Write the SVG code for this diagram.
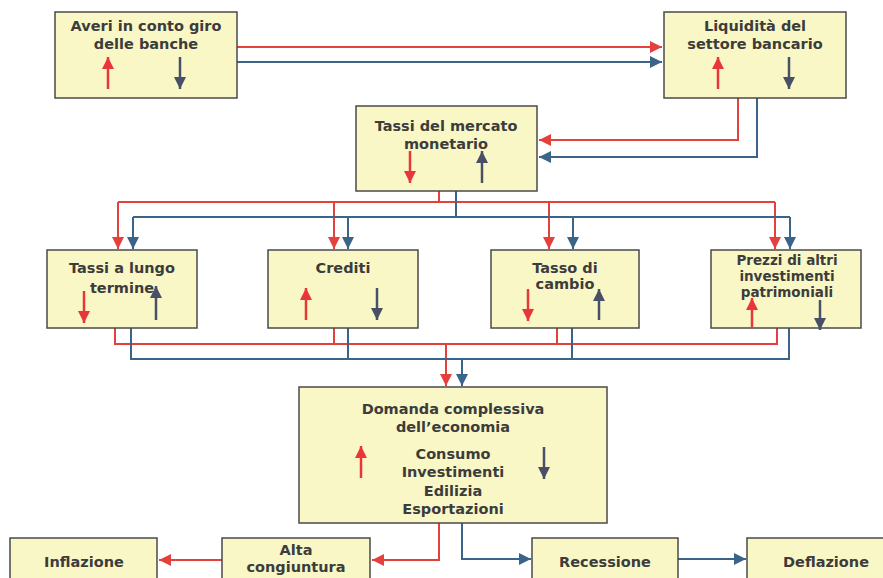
<svg xmlns="http://www.w3.org/2000/svg" width="883" height="578" viewBox="0 0 883 578">
<defs>
<style>
.box{fill:#f9f7c6;stroke:#4a4a4a;stroke-width:1.5}
.t{font-family:"DejaVu Sans","Liberation Sans",Arial,sans-serif;font-weight:bold;font-size:14.5px;fill:#3c3c3c;text-anchor:middle}
.s{font-size:13.5px}
.r{fill:none;stroke:#e4403c;stroke-width:2}
.b{fill:none;stroke:#3a6488;stroke-width:2}
.ra{stroke:#e8363a;stroke-width:2.5;marker-end:url(#ar)}
.da{stroke:#4a4f68;stroke-width:2.5;marker-end:url(#ad)}
</style>
<marker id="mr" markerUnits="userSpaceOnUse" markerWidth="14" markerHeight="14" refX="12" refY="6" orient="auto"><path d="M0,0 L12,6 L0,12 Z" fill="#e4403c"/></marker>
<marker id="mb" markerUnits="userSpaceOnUse" markerWidth="14" markerHeight="14" refX="12" refY="6" orient="auto"><path d="M0,0 L12,6 L0,12 Z" fill="#3a6488"/></marker>
<marker id="ar" markerUnits="userSpaceOnUse" markerWidth="14" markerHeight="14" refX="12" refY="6" orient="auto"><path d="M0,0 L12,6 L0,12 Z" fill="#e8363a"/></marker>
<marker id="ad" markerUnits="userSpaceOnUse" markerWidth="14" markerHeight="14" refX="12" refY="6" orient="auto"><path d="M0,0 L12,6 L0,12 Z" fill="#4a4f68"/></marker>
</defs>
<rect width="883" height="578" fill="#ffffff"/>

<g id="connectors">
<path class="r" d="M237,47 H662" marker-end="url(#mr)"/>
<path class="b" d="M237,62 H662" marker-end="url(#mb)"/>
<path class="r" d="M738,98 V140 H539" marker-end="url(#mr)"/>
<path class="b" d="M757,98 V157 H539" marker-end="url(#mb)"/>
<path class="r" d="M439,191 V202 M118,202 H775"/>
<path class="r" d="M118,202 V249" marker-end="url(#mr)"/>
<path class="r" d="M334,202 V249" marker-end="url(#mr)"/>
<path class="r" d="M549,202 V249" marker-end="url(#mr)"/>
<path class="r" d="M775,202 V249" marker-end="url(#mr)"/>
<path class="b" d="M456,191 V217 M133,217 H790"/>
<path class="b" d="M133,217 V249" marker-end="url(#mb)"/>
<path class="b" d="M348,217 V249" marker-end="url(#mb)"/>
<path class="b" d="M573,217 V249" marker-end="url(#mb)"/>
<path class="b" d="M790,217 V249" marker-end="url(#mb)"/>
<path class="r" d="M115,328 V344 H777 V328 M334,328 V344 M557,328 V344"/>
<path class="r" d="M446,344 V386" marker-end="url(#mr)"/>
<path class="b" d="M131,328 V359 H789 V328 M348,328 V359 M572,328 V359"/>
<path class="b" d="M462,359 V386" marker-end="url(#mb)"/>
<path class="r" d="M439,523 V560 H372" marker-end="url(#mr)"/>
<path class="r" d="M222,560 H159" marker-end="url(#mr)"/>
<path class="b" d="M462,523 V559 H531" marker-end="url(#mb)"/>
<path class="b" d="M678,559 H746" marker-end="url(#mb)"/>
</g>

<g id="averi">
<rect class="box" x="55" y="12" width="182" height="86"/>
<text class="t" x="146" y="31">Averi in conto giro</text>
<text class="t" x="146" y="49">delle banche</text>
<line class="ra" x1="108" y1="89" x2="108" y2="57"/>
<line class="da" x1="180" y1="57" x2="180" y2="89"/>
</g>

<g id="liquidita">
<rect class="box" x="664" y="12" width="182" height="86"/>
<text class="t" x="755" y="31">Liquidità del</text>
<text class="t" x="755" y="49">settore bancario</text>
<line class="ra" x1="718" y1="89" x2="718" y2="57"/>
<line class="da" x1="789" y1="57" x2="789" y2="89"/>
</g>

<g id="tassi-mercato">
<rect class="box" x="356" y="106" width="181" height="85"/>
<text class="t" x="446" y="131">Tassi del mercato</text>
<text class="t" x="446" y="149">monetario</text>
<line class="ra" x1="410" y1="151" x2="410" y2="183"/>
<line class="da" x1="482" y1="183" x2="482" y2="151"/>
</g>

<g id="tassi-lungo">
<rect class="box" x="47" y="250" width="150" height="78"/>
<text class="t" x="122" y="273">Tassi a lungo</text>
<text class="t" x="122" y="293">termine</text>
<line class="ra" x1="84" y1="291" x2="84" y2="323"/>
<line class="da" x1="156" y1="320" x2="156" y2="286"/>
</g>

<g id="crediti">
<rect class="box" x="268" y="250" width="150" height="78"/>
<text class="t" x="343" y="273">Crediti</text>
<line class="ra" x1="306" y1="320" x2="306" y2="288"/>
<line class="da" x1="377" y1="288" x2="377" y2="320"/>
</g>

<g id="cambio">
<rect class="box" x="491" y="250" width="148" height="78"/>
<text class="t" x="565" y="273">Tasso di</text>
<text class="t" x="565" y="289">cambio</text>
<line class="ra" x1="528" y1="289" x2="528" y2="321"/>
<line class="da" x1="599" y1="320" x2="599" y2="289"/>
</g>

<g id="prezzi">
<rect class="box" x="711" y="250" width="150" height="78"/>
<text class="t s" x="787" y="265">Prezzi di altri</text>
<text class="t s" x="787" y="281">investimenti</text>
<text class="t s" x="787" y="297">patrimoniali</text>
<line class="ra" x1="752" y1="328" x2="752" y2="298"/>
<line class="da" x1="820" y1="300" x2="820" y2="330"/>
</g>

<g id="domanda">
<rect class="box" x="299" y="387" width="308" height="136"/>
<text class="t" x="453" y="414">Domanda complessiva</text>
<text class="t" x="453" y="432">dell’economia</text>
<text class="t" x="453" y="459">Consumo</text>
<text class="t" x="453" y="477">Investimenti</text>
<text class="t" x="453" y="496">Edilizia</text>
<text class="t" x="453" y="514">Esportazioni</text>
<line class="ra" x1="361" y1="478" x2="361" y2="446"/>
<line class="da" x1="544" y1="447" x2="544" y2="479"/>
</g>

<g id="inflazione">
<rect class="box" x="10" y="538" width="147" height="50"/>
<text class="t" x="84" y="567">Inflazione</text>
</g>

<g id="alta">
<rect class="box" x="222" y="538" width="148" height="50"/>
<text class="t" x="296" y="555">Alta</text>
<text class="t" x="296" y="572">congiuntura</text>
</g>

<g id="recessione">
<rect class="box" x="532" y="538" width="146" height="50"/>
<text class="t" x="605" y="567">Recessione</text>
</g>

<g id="deflazione">
<rect class="box" x="747" y="538" width="150" height="50"/>
<text class="t" x="826" y="567">Deflazione</text>
</g>
</svg>
